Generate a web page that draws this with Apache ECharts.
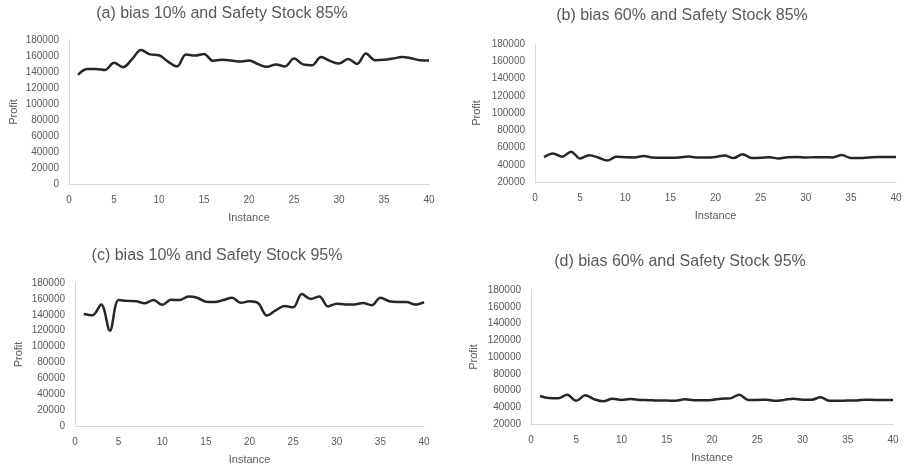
<!DOCTYPE html>
<html>
<head>
<meta charset="utf-8">
<script src="https://cdn.jsdelivr.net/npm/echarts@6/dist/echarts.min.js"></script>
<style>
  html, body { margin: 0; padding: 0; background: #fff; }
  #chart { width: 907px; height: 470px; }
</style>
</head>
<body>
<div id="chart"></div>
<script>
// instances 1..40
var instances = [];
for (var i = 1; i <= 40; i++) instances.push(i);

var titles = [
  '(a) bias 10% and Safety Stock 85%',
  '(b) bias 60% and Safety Stock 85%',
  '(c) bias 10% and Safety Stock 95%',
  '(d) bias 60% and Safety Stock 95%'
];

var profitA = [136500, 143600, 143800, 142500, 151500, 146000, 156000, 167500, 162000, 161000,
  153000, 146900, 162000, 160500, 162500, 154000, 155200, 154500, 153000, 154500,
  149800, 146500, 149500, 147000, 156800, 149500, 148400, 158700, 154000, 150500,
  156400, 150100, 163000, 154800, 155200, 156800, 158800, 157200, 154800, 154500];

var profitB = [48800, 53000, 49200, 55200, 47300, 51100, 48400, 44900, 49200, 48800,
  48500, 50200, 48400, 48000, 48000, 48400, 49600, 48400, 48400, 49100,
  50700, 47700, 52300, 47700, 48000, 48700, 47300, 48700, 49100, 48400,
  48700, 48700, 48500, 51400, 47700, 47700, 48400, 49000, 49000, 49000];

var profitC = [141000, 139500, 153000, 120000, 158500, 157500, 157000, 154500, 158500, 152500,
  159000, 158500, 163000, 161500, 156500, 156000, 158500, 161500, 155000, 157000,
  154500, 139000, 145500, 151000, 149500, 166000, 160000, 163000, 150500, 154000,
  153000, 153000, 154800, 152000, 161500, 157000, 156000, 156000, 152800, 155800];

var profitD = [53500, 51000, 50700, 54800, 47800, 54200, 49500, 47100, 50200, 48800,
  49800, 48800, 48400, 48000, 48000, 47700, 49500, 48400, 48400, 48800,
  50200, 50600, 55000, 48800, 48800, 49100, 47700, 48800, 50200, 49100,
  49100, 51800, 47700, 47700, 48000, 48000, 49100, 48800, 48800, 48800];

var yMins = [0, 20000, 0, 20000];
var yMax = 180000;

var panels = [profitA, profitB, profitC, profitD];

// layout for each panel (px)
var grids = [
  { left: 69, top: 40, width: 360, height: 144 },
  { left: 535, top: 44, width: 361, height: 138 },
  { left: 75, top: 283, width: 349, height: 143 },
  { left: 531, top: 290, width: 362, height: 134 }
];
var titlePos = [
  { x: 222, y: 6 }, { x: 682, y: 8 }, { x: 217, y: 248 }, { x: 680, y: 254 }
];
var yNameGaps = [50, 53, 51, 52];

var labelColor = '#595959';
var axisColor = '#d9d9d9';
var font = 'Liberation Sans';

var option = {
  backgroundColor: '#fff',
  animation: false,
  title: titles.map(function (t, k) {
    return {
      text: t,
      left: titlePos[k].x,
      top: titlePos[k].y,
      textAlign: 'center',
      padding: 0,
      textStyle: { fontFamily: font, fontSize: 16, fontWeight: 'normal', color: labelColor }
    };
  }),
  grid: grids,
  xAxis: grids.map(function (g, k) {
    return {
      type: 'value',
      gridIndex: k,
      min: 0,
      max: 40,
      interval: 5,
      name: 'Instance',
      nameLocation: 'middle',
      nameGap: 28,
      nameTextStyle: { fontFamily: font, fontSize: 11, color: labelColor },
      axisLine: { show: true, onZero: false, lineStyle: { color: axisColor, width: 1 } },
      axisTick: { show: false },
      splitLine: { show: false },
      axisLabel: { fontFamily: font, fontSize: 10, color: labelColor, margin: 11 }
    };
  }),
  yAxis: grids.map(function (g, k) {
    return {
      type: 'value',
      gridIndex: k,
      min: yMins[k],
      max: yMax,
      interval: 20000,
      name: 'Profit',
      nameLocation: 'middle',
      nameGap: yNameGaps[k],
      nameTextStyle: { fontFamily: font, fontSize: 11, color: labelColor },
      axisLine: { show: true, lineStyle: { color: axisColor, width: 1 } },
      axisTick: { show: false },
      splitLine: { show: false },
      axisLabel: {
        fontFamily: font, fontSize: 10, color: labelColor, margin: 10,
        formatter: function (v) { return String(v); }
      }
    };
  }),
  series: panels.map(function (vals, k) {
    return {
      type: 'line',
      xAxisIndex: k,
      yAxisIndex: k,
      smooth: 0.35,
      showSymbol: false,
      lineStyle: { color: '#262626', width: 2.5 },
      data: instances.map(function (x, j) { return [x, vals[j]]; })
    };
  })
};

var chart = echarts.init(document.getElementById('chart'), null, { renderer: 'canvas' });
chart.setOption(option);
</script>
</body>
</html>
